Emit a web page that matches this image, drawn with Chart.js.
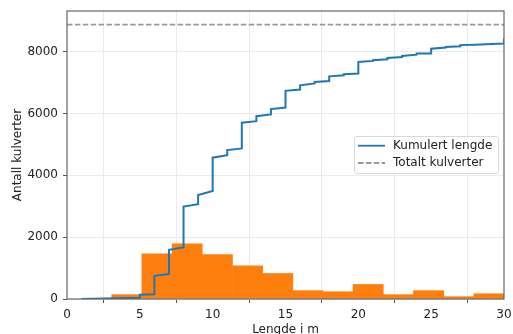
<!DOCTYPE html>
<html><head><meta charset="utf-8">
<script src="https://cdn.jsdelivr.net/npm/chart.js@4.4.1/dist/chart.umd.min.js"></script>
<style>
html,body{margin:0;padding:0;overflow:hidden;background:#fff;}
#wrap{position:relative;width:513px;height:334px;}
canvas{display:block;}
.leg{position:absolute;left:354px;top:136px;width:145px;height:38px;box-sizing:border-box;border:1px solid #d9d9d9;border-radius:3px;background:rgba(255,255,255,0.8);}
.lt{position:absolute;font-family:"DejaVu Sans";font-size:12px;line-height:14px;color:#222;white-space:nowrap;}
</style></head><body>
<div id="wrap">
<canvas id="c" width="513" height="334"></canvas>
<div class="leg"></div>
<svg style="position:absolute;left:0;top:0" width="513" height="334">
  <line x1="358" y1="145.7" x2="385" y2="145.7" stroke="#1f77b4" stroke-width="1.8"/>
  <line x1="358" y1="163" x2="385" y2="163" stroke="#999999" stroke-width="1.8" stroke-dasharray="5.5 2.4"/>
</svg>
<div class="lt" id="l1" style="left:393px;top:137.6px"></div>
<div class="lt" id="l2" style="left:393px;top:155px"></div>
</div>
<script>
// ---- data ----
const binEdges = [1, 3.07, 5.14, 7.21, 9.29, 11.36, 13.43, 15.5, 17.57, 19.64, 21.71, 23.79, 25.86, 27.93, 30];
const binCounts = [15, 140, 1460, 1785, 1440, 1075, 825, 270, 235, 470, 140, 270, 75, 170];
const cumX = [1, 5, 5, 6, 6, 7, 7, 8, 8, 9, 9, 10, 10, 11, 11, 12, 12, 13, 13, 14, 14, 15, 15, 16, 16, 17, 17, 18, 18, 19, 19, 20, 20, 21, 21, 22, 22, 23, 23, 24, 24, 25, 25, 26, 26, 27, 27, 28, 28, 30, 30];
const cumY = [0, 40, 140, 150, 750, 805, 1590, 1665, 2990, 3065, 3365, 3490, 4570, 4650, 4815, 4870, 5700, 5750, 5910, 5970, 6140, 6190, 6730, 6775, 6910, 6970, 7020, 7050, 7200, 7235, 7270, 7290, 7665, 7700, 7720, 7750, 7795, 7825, 7860, 7900, 7935, 7935, 8095, 8130, 8150, 8170, 8210, 8225, 8225, 8260, 8420];
const totalCulverts = 8870;
const xTickValues = [0, 5, 10, 15, 20, 25, 30];
const yTickValues = [0, 2000, 4000, 6000, 8000];
const xRange = [0, 30];
const yRange = [0, 9313];
const legendLabels = ['Kumulert lengde', 'Totalt kulverter'];
const xTitle = 'Lengde i m';
const yTitle = 'Antall kulverter';

document.getElementById('l1').textContent = legendLabels[0];
document.getElementById('l2').textContent = legendLabels[1];

const histData = binCounts.map((c, i) => ({x: (binEdges[i] + binEdges[i + 1]) / 2, y: c}));
const cumData = cumX.map((x, i) => ({x: x, y: cumY[i]}));
const totalData = xRange.map(x => ({x: x, y: totalCulverts}));

Chart.defaults.font.family = '"DejaVu Sans"';
Chart.defaults.font.size = 12;
Chart.defaults.color = '#222';

const frame = {
  id: 'frame',
  afterDraw(chart) {
    const a = chart.chartArea, ctx = chart.ctx;
    ctx.save();
    ctx.strokeStyle = '#666';
    ctx.lineWidth = 1.2;
    ctx.strokeRect(a.left, a.top, a.right - a.left, a.bottom - a.top);
    ctx.restore();
  }
};

new Chart(document.getElementById('c'), {
  type: 'line',
  data: {
    datasets: [
      {type: 'line', label: legendLabels[1], data: totalData, borderColor: '#999999', borderWidth: 1.8, borderDash: [5.5, 2.4], pointRadius: 0, fill: false, order: 0},
      {type: 'line', label: legendLabels[0], data: cumData, borderColor: '#1f77b4', borderWidth: 2, pointRadius: 0, tension: 0, fill: false, order: 1},
      {type: 'bar', label: 'hist', data: histData, backgroundColor: '#ff7f0e', borderWidth: 0, barPercentage: 1, categoryPercentage: 1, grouped: false, order: 3}
    ]
  },
  options: {
    responsive: false,
    animation: false,
    devicePixelRatio: 1,
    layout: {padding: {top: 11, right: 9, left: 0, bottom: 0}},
    plugins: {legend: {display: false}, tooltip: {enabled: false}},
    scales: {
      x: {
        type: 'linear', min: xRange[0], max: xRange[1], offset: false,
        afterFit(s) { s.height = 35; s.paddingLeft = 0; s.paddingRight = 0; },
        afterBuildTicks(s) { s.ticks = xTickValues.map(v => ({value: v})); },
        ticks: {callback: v => String(v), padding: 5, maxRotation: 0, autoSkip: false},
        grid: {color: '#ebebeb', lineWidth: 1, drawTicks: true, tickLength: 4, tickColor: '#555', tickWidth: 1},
        border: {display: false},
        title: {display: true, text: xTitle, padding: {top: 0, bottom: -3.5}, font: {size: 12}}
      },
      y: {
        type: 'linear', min: yRange[0], max: yRange[1],
        afterFit(s) { s.width = 67; s.paddingTop = 0; s.paddingBottom = 0; },
        afterBuildTicks(s) { s.ticks = yTickValues.map(v => ({value: v})); },
        ticks: {callback: v => String(v), padding: 5, autoSkip: false},
        grid: {color: '#ebebeb', lineWidth: 1, drawTicks: true, tickLength: 4, tickColor: '#555', tickWidth: 1},
        border: {display: false},
        title: {display: true, text: yTitle, padding: {top: 10.3, bottom: 0}, font: {size: 12}}
      }
    }
  },
  plugins: [frame]
});
</script>
</body></html>
